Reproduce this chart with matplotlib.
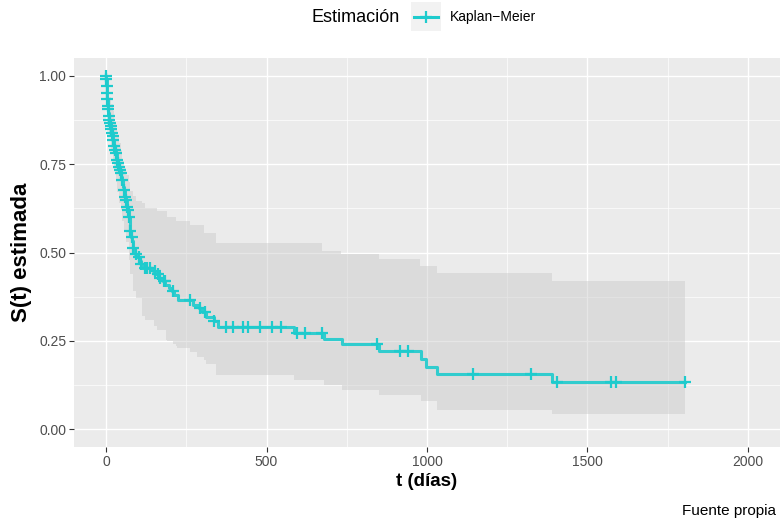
import numpy as np
import matplotlib.pyplot as plt
from matplotlib.patches import Rectangle
from matplotlib.lines import Line2D

plt.rcParams['font.family'] = ['Liberation Sans', 'DejaVu Sans']

# Kaplan-Meier estimate: survival value holding from each event time on
event_times = [0, 1, 2, 3, 4, 5, 6, 7, 8, 10, 12, 14, 16, 18, 20, 22, 24, 27, 30, 33,
               36, 39, 42, 45, 47, 50, 52, 55, 58, 61, 64, 67, 70, 73, 76, 78, 81, 84,
               87, 91, 96, 102, 108, 113, 145, 155, 165, 178, 185, 195, 205, 212, 225,
               270, 290, 300, 310, 335, 350, 584, 678, 734, 851, 980, 997, 1032, 1388]
surv = [1.000, 0.990, 0.971, 0.952, 0.933, 0.914, 0.905, 0.895, 0.886, 0.876, 0.867,
        0.857, 0.848, 0.838, 0.829, 0.819, 0.800, 0.790, 0.781, 0.762, 0.752, 0.743,
        0.733, 0.724, 0.714, 0.705, 0.686, 0.676, 0.657, 0.648, 0.629, 0.619, 0.600,
        0.581, 0.562, 0.543, 0.533, 0.514, 0.505, 0.495, 0.486, 0.476, 0.467, 0.457,
        0.447, 0.438, 0.428, 0.419, 0.409, 0.400, 0.390, 0.381, 0.366, 0.352, 0.343,
        0.333, 0.319, 0.305, 0.288, 0.273, 0.256, 0.240, 0.221, 0.198, 0.177, 0.157,
        0.133]
t_end = 1803

# censored observations (+)
censor_times = [0, 1, 2, 3, 4, 5, 6, 8, 10, 12, 14, 16, 18, 20, 22, 24, 27, 30, 33,
                36, 39, 42, 45, 50, 55, 58, 61, 64, 67, 70, 76, 80, 85, 93, 101, 109,
                120, 127, 137, 153, 163, 168, 180, 184, 210, 262, 293, 308, 337, 374,
                397, 428, 443, 480, 516, 545, 594, 620, 672, 843, 916, 942, 1142, 1323,
                1404, 1573, 1588, 1803]

# 95% confidence band
band_times = [0, 3, 6, 10, 15, 20, 25, 30, 35, 40, 45, 50, 55, 62, 70, 76, 85, 92,
              111, 122, 150, 160, 187, 191, 208, 218, 221, 262, 284, 305, 310, 344,
              584, 673, 678, 732, 734, 849, 851, 979, 980, 1030, 1388]
band_upper = [1.000, 0.990, 0.960, 0.940, 0.920, 0.900, 0.870, 0.850, 0.830, 0.810,
              0.790, 0.760, 0.740, 0.720, 0.700, 0.675, 0.660, 0.645, 0.640, 0.625,
              0.625, 0.616, 0.616, 0.600, 0.600, 0.588, 0.588, 0.578, 0.578, 0.556,
              0.556, 0.528, 0.528, 0.505, 0.505, 0.495, 0.495, 0.483, 0.483, 0.461,
              0.461, 0.443, 0.419]
band_lower = [1.000, 0.930, 0.880, 0.830, 0.790, 0.750, 0.730, 0.700, 0.670, 0.640,
              0.620, 0.590, 0.560, 0.530, 0.480, 0.440, 0.390, 0.370, 0.320, 0.310,
              0.292, 0.280, 0.252, 0.250, 0.241, 0.236, 0.231, 0.220, 0.205, 0.195,
              0.186, 0.153, 0.140, 0.140, 0.126, 0.126, 0.112, 0.112, 0.098, 0.098,
              0.080, 0.056, 0.042]

x_ticks = [0, 500, 1000, 1500, 2000]
y_ticks = [0.00, 0.25, 0.50, 0.75, 1.00]

line_color = '#1ECBCD'
W, H = 783, 524

fig = plt.figure(figsize=(W / 100, H / 100), dpi=100)
ax = fig.add_axes([74 / W, 1 - 447 / H, (780 - 74) / W, (447 - 58) / H])
ax.set_facecolor('#EBEBEB')
for s in ax.spines.values():
    s.set_visible(False)

ax.set_xlim(-100, 2100)
ax.set_ylim(-0.05, 1.05)
ax.set_xticks(x_ticks)
ax.set_yticks(y_ticks)
ax.set_xticks([250, 750, 1250, 1750], minor=True)
ax.set_yticks([0.125, 0.375, 0.625, 0.875], minor=True)
ax.set_xticklabels([str(v) for v in x_ticks])
ax.set_yticklabels([f'{v:.2f}' for v in y_ticks])
ax.grid(which='major', color='white', linewidth=1.0)
ax.grid(which='minor', color='white', linewidth=0.5)
ax.set_axisbelow(True)
ax.tick_params(which='major', length=3.5, width=0.8, color='#333333',
               labelcolor='#4D4D4D', labelsize=10, pad=2)
ax.tick_params(which='minor', length=0)

# confidence band
bt = np.append(band_times, t_end)
ax.fill_between(bt, np.append(band_lower, band_lower[-1]),
                np.append(band_upper, band_upper[-1]),
                step='post', color='#C8C8C8', alpha=0.45, linewidth=0)

# survival curve
et = np.append(event_times, t_end)
sv = np.append(surv, surv[-1])
ax.step(et, sv, where='post', color=line_color, linewidth=2.2, alpha=0.9)

# censor marks
idx = np.searchsorted(event_times, censor_times, side='right') - 1
cy = np.array(surv)[idx]
ax.plot(censor_times, cy, linestyle='none', marker='+', color=line_color,
        markersize=8, markeredgewidth=1.6)

ax.set_xlabel('t (días)', fontsize=13.5, fontweight='bold', labelpad=3)
ax.set_ylabel('S(t) estimada', fontsize=16, fontweight='bold', labelpad=5)

# legend at the top
fig.text(400 / W, 1 - 18 / H, 'Estimación', ha='right', va='center', fontsize=13)
fig.patches.append(Rectangle((411 / W, 1 - 31 / H), 30 / W, 29 / H,
                             transform=fig.transFigure, facecolor='#F2F2F2',
                             edgecolor='none'))
fig.lines.append(Line2D([414 / W, 438 / W], [1 - 16.5 / H, 1 - 16.5 / H],
                        transform=fig.transFigure, color=line_color, linewidth=2.2))
fig.lines.append(Line2D([426 / W], [1 - 16.5 / H], transform=fig.transFigure,
                        marker='+', color=line_color, markersize=8,
                        markeredgewidth=1.6, linestyle='none'))
fig.text(450 / W, 1 - 17 / H, 'Kaplan\u2212Meier', ha='left', va='center', fontsize=10)

fig.text(776 / W, 1 - 511 / H, 'Fuente propia', ha='right', va='center', fontsize=11)

fig.savefig('out.png', dpi=100)
